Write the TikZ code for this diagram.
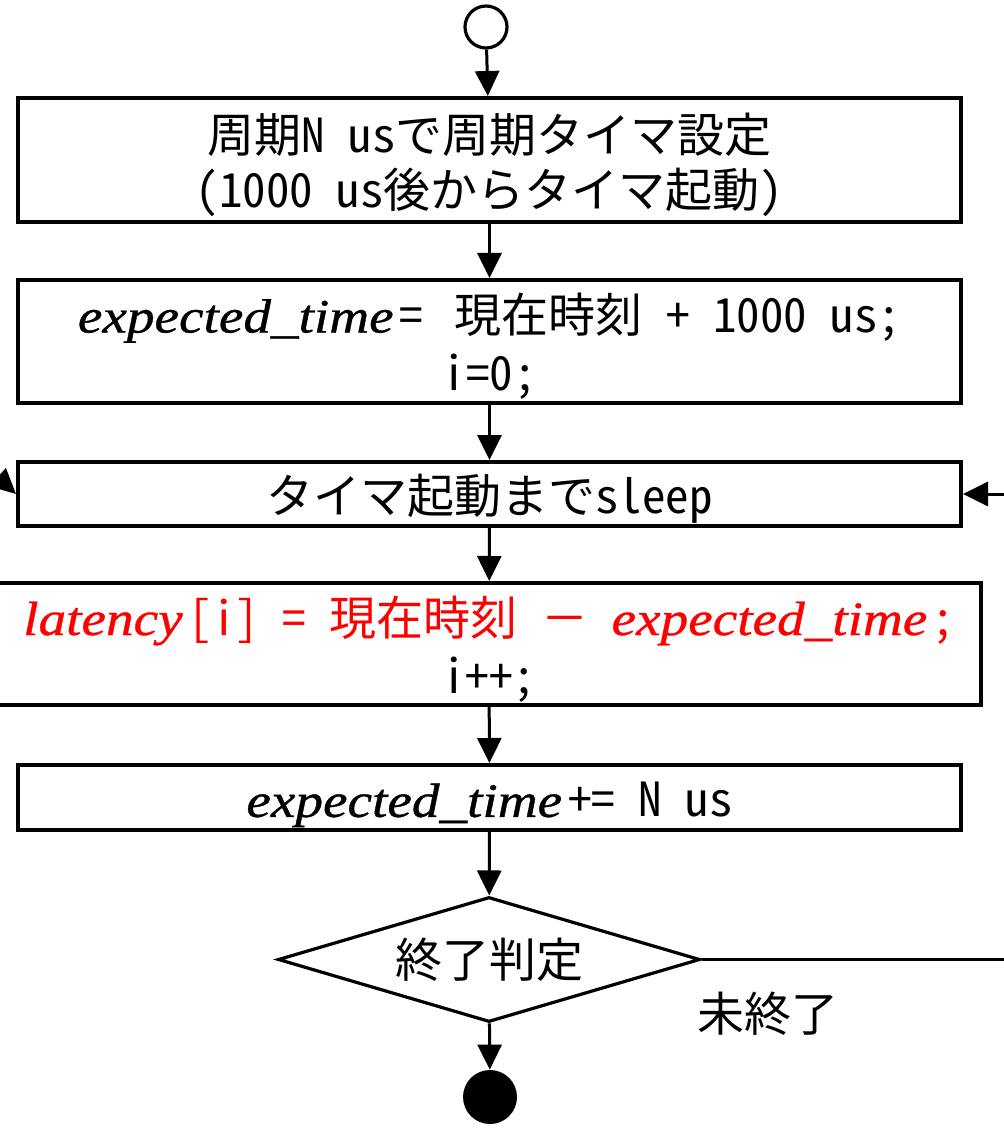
\documentclass[tikz,border=0pt]{standalone}
\usepackage{fontspec}
\setmainfont{Noto Sans CJK JP}
\newfontfamily\hwfont[RawFeature=+hwid]{Noto Sans CJK JP}
\newfontfamily\italfont[FakeStretch=1.15,FakeBold=0.8]{Liberation Serif}
\usetikzlibrary{arrows.meta,shapes.geometric}
\newcommand\hwt[1]{{\hwfont #1}}
\newcommand\itx[1]{{\fontsize{24pt}{29pt}\selectfont\italfont\itshape #1}}
\newcommand\lowstrut{\rule{0pt}{24.5pt}}
\tikzset{
  box/.style={draw, line width=2pt, inner sep=0pt, align=center,
    font=\fontsize{23.5pt}{29pt}\selectfont, minimum width=471.5pt},
  arr/.style={-{Triangle[length=12.5pt,width=12pt]}, line width=1.5pt},
  txt/.style={font=\fontsize{23.5pt}{29pt}\selectfont, inner sep=0pt},
}
\begin{document}
\begin{tikzpicture}[x=0.5pt,y=-0.5pt]
\useasboundingbox (0,0) rectangle (1003,1128);
\node[circle, draw, line width=1.6pt, minimum size=21pt, inner sep=0pt] (st) at (486,27) {};
\node[box, minimum height=62pt] (b1) at (489.5,160)
  {\lowstrut 周期\hwt{N us}で周期タイマ設定\\[-1.5pt]\hwt{(1000 us}後からタイマ起動\hwt{)}};
\node[box, minimum height=61.5pt] (b2) at (489.5,341.5)
  {\lowstrut\itx{expected\_time}\hspace{3pt}\hwt{= }\hspace{4pt}現在時刻\hwt{ + 1000 us;}\\\hwt{i=0;}};
\node[box, minimum height=32pt] (b3) at (489.5,494)
  {\lowstrut タイマ起動まで\hwt{sleep}};
\node[box, minimum height=61pt, minimum width=492pt] (b4) at (489,644)
  {\lowstrut\textcolor{red}{\itx{latency}\hspace{3pt}\hwt{[i] = }現在時刻\hwt{ }－\hwt{ }\itx{expected\_time}\hspace{2pt}\hwt{;}}\\\hwt{i++;}};
\node[box, minimum height=32.5pt] (b5) at (489.5,797.5)
  {\lowstrut\itx{expected\_time}\hspace{3pt}\hwt{+= N us}};
\node[diamond, draw, line width=1.6pt, inner sep=0pt, aspect=3.376,
  minimum width=211pt, minimum height=62.5pt, font=\fontsize{23.5pt}{29pt}\selectfont]
  (dec) at (489,959.5) {終了判定};
\node[circle, fill, minimum size=27pt, inner sep=0pt] (en) at (490,1097) {};
\node[txt] (lbl) at (768,1014) {未終了};
\coordinate (lin) at (-44,439);
\draw[arr] (st) -- (b1);
\draw[arr] (b1) -- (b2);
\draw[arr] (b2) -- (b3);
\draw[arr] (b3) -- (b4);
\draw[arr] (b4) -- (b5);
\draw[arr] (b5) -- (dec);
\draw[arr] (dec) -- (en);
\draw[arr] (dec.east) -- (1060,959.5) |- (b3.east);
\draw[arr] (lin) -- (b3.west);
\end{tikzpicture}
\end{document}
